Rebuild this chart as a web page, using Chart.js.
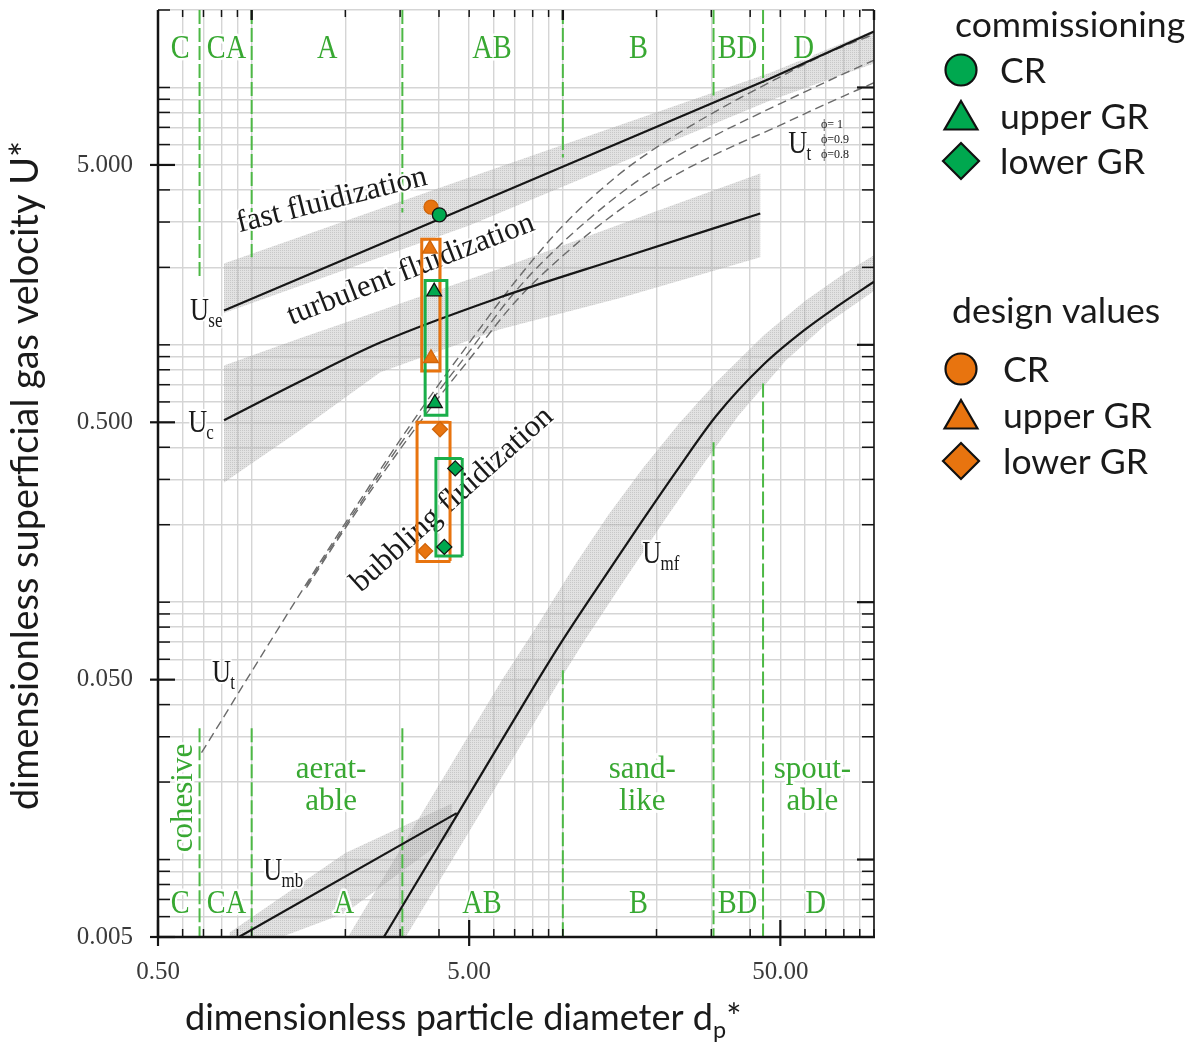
<!DOCTYPE html>
<html>
<head>
<meta charset="utf-8">
<title>Fluidization regime map</title>
<script src="https://cdn.jsdelivr.net/npm/chart.js@4.4.1/dist/chart.umd.min.js"></script>
<style>
    html, body { margin: 0; padding: 0; background: #ffffff; }
    #box { position: relative; width: 1194px; height: 1042px; }
</style>
</head>
<body>
<div id="box"><canvas id="graceChart"></canvas></div>
<script>
// ---- axis ticks (log grid at 1..9 x 10^n) ----
const xTicks = [0.5, 0.6, 0.7, 0.8, 0.9, 1, 2, 3, 4, 5, 6, 7, 8, 9, 10, 20, 30, 40, 50, 60, 70, 80, 90, 100];
const yTicks = [0.005, 0.006, 0.007, 0.008, 0.009, 0.01, 0.02, 0.03, 0.04, 0.05, 0.06, 0.07, 0.08, 0.09,
    0.1, 0.2, 0.3, 0.4, 0.5, 0.6, 0.7, 0.8, 0.9, 1, 2, 3, 4, 5, 6, 7, 8, 9, 10, 20];
const xTickLabels = ['0.50', '5.00', '50.00'];
const yTickLabels = ['0.005', '0.050', '0.500', '5.000'];
const xDecades = [1, 10, 100];
const yDecades = [0.01, 0.1, 1, 10];

// ---- regime boundaries ----
// U_se (fast fluidization)
const useX = [0.815, 5, 46.4, 100];
const useY = [1.36, 3.45, 10.84, 16.5];
const useBandHi = [2.07, 4.47, 11.4, 16.7];
const useBandLo = [1.33, 2.91, 8.9, 12.4];

// U_c (turbulent fluidization)
const ucX = [0.815, 1.43, 2.59, 6.29, 15.3, 43.1];
const ucY = [0.509, 0.72, 1.02, 1.53, 2.17, 3.24];
const ucBandX = [0.815, 1.43, 2.59, 6.29, 15.3, 43.1];
const ucBandHi = [0.832, 1.06, 1.36, 1.98, 2.94, 4.63];
const ucBandLo = [0.292, 0.466, 0.782, 1.15, 1.52, 2.19];

// U_mf (minimum fluidization)
const umfX = [2.66, 4.61, 8.33, 9.99, 13.29, 17.99, 23.67, 31.13, 44.25, 59.7, 76.8, 100];
const umfY = [0.005, 0.01515, 0.05, 0.0712, 0.12, 0.207, 0.335, 0.53, 0.84, 1.14, 1.42, 1.76];
const umfBandHiX = [1.8, 2.04, 3.53, 6.38, 8.33, 11, 14, 18, 23.67, 31, 44.25, 60, 80, 100];
const umfBandHi = [0.0039, 0.005, 0.01515, 0.05, 0.082, 0.141, 0.218, 0.329, 0.496, 0.713, 1.09, 1.48, 1.89, 2.23];
const umfBandLoX = [2.9, 5.43, 9.8, 11.76, 15.64, 21.17, 27.86, 36.64, 52.08, 70, 100];
const umfBandLo = [0.0043, 0.01515, 0.05, 0.0712, 0.12, 0.207, 0.335, 0.53, 0.87, 1.2, 1.62];

// U_mb (minimum bubbling)
const umbX = [0.91, 4.56];
const umbY = [0.005, 0.01515];
const umbBandX = [0.85, 2, 4.4];
const umbBandHi = [0.0052, 0.0106, 0.0165];
const umbBandLo = [0.0042, 0.0062, 0.0125];

// U_t (terminal velocity) for sphericity 1, 0.9, 0.8
const ut10X = [0.69, 0.8, 1, 1.5, 2, 3, 4, 5, 7, 10, 15, 20, 30, 50, 70, 100];
const ut10Y = [0.026, 0.0347, 0.0538, 0.118, 0.203, 0.427, 0.704, 1.016, 1.75, 2.9, 4.55, 5.85, 7.9, 11.0, 13.5, 16.1];
const utShapeX = [1.5, 2, 3, 4, 5, 7, 10, 15, 20, 30, 50, 70, 100];
const ut09Y = [0.116, 0.198, 0.41, 0.663, 0.941, 1.6, 2.5, 3.8, 4.85, 6.4, 8.66, 10.5, 12.77];
const ut08Y = [0.114, 0.194, 0.393, 0.627, 0.877, 1.46, 2.22, 3.3, 4.15, 5.4, 7.14, 8.62, 10.44];

// particle groups (C, CA, A, AB, B, BD, D) - boundaries and where the dashed lines stop
const groupNames = ['C', 'CA', 'A', 'AB', 'B', 'BD', 'D'];
const groupBounds = [0.68, 1.0, 3.05, 10, 30.5, 44];
const groupTopEnd = [1.83, 2.19, 3.27, 5.35, 9.31, 10.4];
const groupLowStart = [0.0324, 0.0324, 0.0324, 0.0544, 0.418, 0.708];

// ---- operating points ----
const commCRX = [4.01], commCRY = [3.20];
const commUpperX = [3.86, 3.88], commUpperY = [1.61, 0.593];
const commLowerX = [4.51, 4.16], commLowerY = [0.331, 0.164];
const designCRX = [3.77], designCRY = [3.43];
const designUpperX = [3.74, 3.77], designUpperY = [2.36, 0.887];
const designLowerX = [4.03, 3.61], designLowerY = [0.470, 0.158];

// ranges of the grid-reactor points (x from/to, y from/to)
const commUpperBoxX = [3.61, 4.24], commUpperBoxY = [0.533, 1.78];
const designUpperBoxX = [3.52, 4.03], designUpperBoxY = [0.791, 2.57];
const commLowerBoxX = [3.91, 4.75], commLowerBoxY = [0.151, 0.362];
const designLowerBoxX = [3.40, 4.34], designLowerBoxY = [0.144, 0.5];

// ---- styling ----
const GREEN = '#00a84f';
const ORANGE = '#e8740f';
const GROUP_GREEN = '#38a832';
const LINE_BLACK = '#161616';
const SERIF = '"Liberation Serif", "DejaVu Serif", serif';
const SANS = 'Lato, "Open Sans", sans-serif';

// stippled grey for the uncertainty bands
function stipple() {
    const c = document.createElement('canvas');
    c.width = 2; c.height = 2;
    const g = c.getContext('2d');
    g.fillStyle = 'rgba(180,180,180,0.38)';
    g.fillRect(0, 0, 2, 2);
    g.fillStyle = 'rgba(140,140,140,0.30)';
    g.fillRect(0, 0, 1, 1);
    return g.createPattern(c, 'repeat');
}
const BAND = stipple();

// annotation anchors, in data units
const groupTopRow = { y: 13.07, x: [0.589, 0.83, 1.75, 5.92, 17.5, 36.4, 59.5] };
const groupLowRow = { y: 0.0062, x: [0.589, 0.83, 1.98, 5.5, 17.5, 36.4, 65] };
const groupWords = [
    { lines: ['aerat-', 'able'], x: 1.80 },
    { lines: ['sand-', 'like'], x: 18 },
    { lines: ['spout-', 'able'], x: 63.4 }
];
const groupWordY = [0.0207, 0.01556];
const regimeLabels = [
    { text: 'fast fluidization', x: 1.81, y: 3.64, angle: -14.2 },
    { text: 'turbulent fluidization', x: 3.25, y: 1.96, angle: -21.3 },
    { text: 'bubbling fluidization', x: 4.41, y: 0.25, angle: -42 }
];
const velocityLabels = [
    { sub: 'se', x: 0.634, y: 1.245 },
    { sub: 'c', x: 0.625, y: 0.457 },
    { sub: 't', x: 0.746, y: 0.0489 },
    { sub: 'mf', x: 18.0, y: 0.142 },
    { sub: 'mb', x: 1.09, y: 0.00832 },
    { sub: 't', x: 53.0, y: 5.54 }
];
const shapeLabels = [
    { text: '\u03D5= 1', y: 6.93 },
    { text: '\u03D5=0.9', y: 6.06 },
    { text: '\u03D5=0.8', y: 5.30 }
];

const P = (xs, ys) => xs.map((x, i) => ({ x: x, y: ys[i] }));

function curve(xs, ys, extra) {
    return Object.assign({
        data: P(xs, ys), showLine: true, pointRadius: 0, borderColor: LINE_BLACK,
        borderWidth: 2.2, fill: false, tension: 0
    }, extra || {});
}

function band(xHi, hi, xLo, lo) {
    return {
        data: P(xHi, hi).concat(P(xLo, lo).reverse()), showLine: true, pointRadius: 0,
        borderColor: 'rgba(0,0,0,0)', borderWidth: 0, fill: 'shape', backgroundColor: BAND, tension: 0
    };
}

function box(xr, yr, color, dash) {
    return {
        data: [{ x: xr[0], y: yr[0] }, { x: xr[1], y: yr[0] }, { x: xr[1], y: yr[1] },
            { x: xr[0], y: yr[1] }, { x: xr[0], y: yr[0] }],
        showLine: true, pointRadius: 0, borderColor: color, borderWidth: 3,
        borderDash: dash || [], borderCapStyle: 'square', borderJoinStyle: 'miter', fill: false, tension: 0
    };
}

function markers(xs, ys, style, fill, border, r) {
    return {
        data: P(xs, ys), showLine: false, pointStyle: style, pointRadius: r, pointHoverRadius: r,
        pointBackgroundColor: fill, pointBorderColor: border, pointBorderWidth: 1.3
    };
}

// group boundary segments (dashed green)
const groupSegments = [];
groupBounds.forEach((gx, i) => {
    const seg = { showLine: true, pointRadius: 0, borderColor: '#4db845', borderWidth: 2, borderDash: [14, 4], fill: false };
    groupSegments.push(Object.assign({ data: [{ x: gx, y: 20 }, { x: gx, y: groupTopEnd[i] }] }, seg));
    groupSegments.push(Object.assign({ data: [{ x: gx, y: groupLowStart[i] }, { x: gx, y: 0.005 }] }, seg));
});

const smooth = { tension: 0.3, cubicInterpolationMode: 'monotone' };
const dashed = Object.assign({ borderColor: '#6a6a6a', borderWidth: 1.4, borderDash: [9, 5] }, smooth);

// first dataset is drawn last (on top)
const datasets = [
    markers(commCRX, commCRY, 'circle', GREEN, '#111', 7),
    markers(designCRX, designCRY, 'circle', ORANGE, '#d0650a', 7),
    markers(commUpperX, commUpperY, 'triangle', GREEN, '#111', 8.5),
    markers(designUpperX, designUpperY, 'triangle', ORANGE, '#d0650a', 8.5),
    markers(commLowerX, commLowerY, 'rectRot', GREEN, '#111', 7.5),
    markers(designLowerX, designLowerY, 'rectRot', ORANGE, '#d0650a', 7.5),
    box(commUpperBoxX, commUpperBoxY, '#1aae4a'),
    box(designUpperBoxX, designUpperBoxY, ORANGE),
    box(commLowerBoxX, commLowerBoxY, '#1aae4a', [4, 3]),
    box(designLowerBoxX, designLowerBoxY, ORANGE, [4, 3]),
    Object.assign(curve(useX, useY), { labelsAfter: true }),
    curve(ucX, ucY, smooth),
    curve(umfX, umfY, smooth),
    curve(umbX, umbY),
    curve(ut10X, ut10Y, dashed),
    curve(utShapeX, ut09Y, dashed),
    curve(utShapeX, ut08Y, dashed)
].concat(groupSegments, [
    band(useX, useBandHi, useX, useBandLo),
    band(ucBandX, ucBandHi, ucBandX, ucBandLo),
    band(umfBandHiX, umfBandHi, umfBandLoX, umfBandLo),
    band(umbBandX, umbBandHi, umbBandX, umbBandLo)
]);

// ---- drawing helpers ----
function haloText(ctx, text, x, y, color, halo) {
    if (halo) {
        ctx.lineJoin = 'round';
        ctx.strokeStyle = 'rgba(255,255,255,0.92)';
        ctx.lineWidth = halo;
        ctx.strokeText(text, x, y);
    }
    ctx.fillStyle = color;
    ctx.fillText(text, x, y);
}

function seg(ctx, x1, y1, x2, y2) {
    ctx.beginPath();
    ctx.moveTo(x1, y1);
    ctx.lineTo(x2, y2);
    ctx.stroke();
}

function drawAnnotations(chart) {
    const ctx = chart.ctx;
    const X = v => chart.scales.x.getPixelForValue(v);
    const Y = v => chart.scales.y.getPixelForValue(v);
    ctx.save();

    // particle group letters, condensed serif
    ctx.font = '33px ' + SERIF;
    ctx.textAlign = 'center';
    ctx.textBaseline = 'alphabetic';
    [groupTopRow, groupLowRow].forEach(row => {
        groupNames.forEach((g, i) => {
            ctx.save();
            ctx.translate(X(row.x[i]), Y(row.y));
            ctx.scale(0.86, 1);
            haloText(ctx, g, 0, 0, GROUP_GREEN, 5);
            ctx.restore();
        });
    });

    ctx.font = '31px ' + SERIF;
    groupWords.forEach(w => {
        w.lines.forEach((t, k) => haloText(ctx, t, X(w.x), Y(groupWordY[k]), GROUP_GREEN, 6));
    });
    ctx.save();
    ctx.translate(X(0.643), Y(0.01733));
    ctx.rotate(-Math.PI / 2);
    haloText(ctx, 'cohesive', 0, 0, GROUP_GREEN, 5);
    ctx.restore();

    // regime names
    ctx.font = '31px ' + SERIF;
    ctx.textBaseline = 'middle';
    regimeLabels.forEach(l => {
        ctx.save();
        ctx.translate(X(l.x), Y(l.y));
        ctx.rotate(l.angle * Math.PI / 180);
        haloText(ctx, l.text, 0, 0, '#1a1a1a', 4);
        ctx.restore();
    });

    // characteristic velocities
    ctx.textAlign = 'left';
    ctx.textBaseline = 'alphabetic';
    velocityLabels.forEach(l => {
        const x = X(l.x), y = Y(l.y);
        ctx.font = '31px ' + SERIF;
        ctx.save();
        ctx.translate(x, y);
        ctx.scale(0.85, 1);
        haloText(ctx, 'U', 0, 0, '#1a1a1a', 4);
        const w = ctx.measureText('U').width;
        ctx.font = '20px ' + SERIF;
        haloText(ctx, l.sub, w - 1, 7, '#1a1a1a', 4);
        ctx.restore();
    });

    ctx.font = '12px ' + SERIF;
    shapeLabels.forEach(l => haloText(ctx, l.text, X(67.5), Y(l.y), '#1a1a1a', 0));
    ctx.restore();
}

function drawFrame(chart) {
    const ctx = chart.ctx;
    const { left, right, top, bottom } = chart.chartArea;
    const xs = chart.scales.x, ys = chart.scales.y;
    const xMajor = xTickLabels.map(parseFloat);
    const yMajor = yTickLabels.map(parseFloat);
    ctx.save();
    ctx.strokeStyle = '#141414';

    ctx.lineWidth = 2.5;
    seg(ctx, left, top, left, bottom + 1);
    seg(ctx, left - 1, bottom, right + 1, bottom);
    ctx.lineWidth = 1.6;
    seg(ctx, right, top, right, bottom);

    yTicks.forEach(v => {
        const y = ys.getPixelForValue(v);
        const major = yMajor.includes(v);
        ctx.lineWidth = major ? 2.2 : 1.5;
        seg(ctx, major ? left - 8 : left, y, left + (major ? 17 : 12), y);
        ctx.lineWidth = yDecades.includes(v) ? 2.2 : 1.5;
        seg(ctx, right - (yDecades.includes(v) ? 17 : 12), y, right, y);
    });
    xTicks.forEach(v => {
        const x = xs.getPixelForValue(v);
        const major = xMajor.includes(v);
        ctx.lineWidth = major ? 2.2 : 1.5;
        seg(ctx, x, bottom + (major ? 9 : 0), x, bottom - (major ? 17 : 8));
        ctx.lineWidth = xDecades.includes(v) ? 2.4 : 1.5;
        seg(ctx, x, top, x, top + (xDecades.includes(v) ? 10 : 7));
    });

    ctx.fillStyle = '#3a3a3a';
    ctx.font = '25px ' + SERIF;
    ctx.textAlign = 'right';
    ctx.textBaseline = 'middle';
    yTickLabels.forEach(t => ctx.fillText(t, left - 25, ys.getPixelForValue(parseFloat(t))));
    ctx.textAlign = 'center';
    xTickLabels.forEach(t => ctx.fillText(t, xs.getPixelForValue(parseFloat(t)), bottom + 35));

    // axis titles
    ctx.fillStyle = '#1a1a1a';
    ctx.textBaseline = 'alphabetic';
    const yTitle = 'dimensionless superficial gas velocity U*';
    ctx.font = '100px ' + SANS;
    const ySize = 100 * 670 / ctx.measureText(yTitle).width;
    ctx.font = ySize.toFixed(1) + 'px ' + SANS;
    ctx.save();
    ctx.translate(38, (top + bottom) / 2 + 2);
    ctx.rotate(-Math.PI / 2);
    ctx.textAlign = 'center';
    ctx.fillText(yTitle, 0, 0);
    ctx.restore();

    const xMain = 'dimensionless particle diameter d';
    ctx.font = '100px ' + SANS;
    const xSize = 100 * 543 / ctx.measureText(xMain + '*').width;
    ctx.font = xSize.toFixed(1) + 'px ' + SANS;
    const wMain = ctx.measureText(xMain).width;
    ctx.font = (xSize * 0.65).toFixed(1) + 'px ' + SANS;
    const wSub = ctx.measureText('p').width;
    const x0 = 185;
    ctx.textAlign = 'left';
    ctx.font = xSize.toFixed(1) + 'px ' + SANS;
    ctx.fillText(xMain, x0, 1030);
    ctx.fillText('*', x0 + wMain + wSub, 1030);
    ctx.font = (xSize * 0.65).toFixed(1) + 'px ' + SANS;
    ctx.fillText('p', x0 + wMain, 1038);
    ctx.restore();
}

function drawLegend(chart) {
    const ctx = chart.ctx;
    const groups = [
        { title: 'commissioning', color: GREEN, titleX: 955, titleY: 36, itemY: [70, 116, 161], textX: 1000 },
        { title: 'design values', color: ORANGE, titleX: 952, titleY: 322, itemY: [369, 415, 461], textX: 1003 }
    ];
    const items = ['CR', 'upper GR', 'lower GR'];
    const styles = [['circle', 15.5], ['triangle', 19], ['rectRot', 18]];
    ctx.save();
    ctx.font = '100px ' + SANS;
    const size = 100 * 230 / ctx.measureText('commissioning').width;
    ctx.font = size.toFixed(1) + 'px ' + SANS;
    ctx.textBaseline = 'middle';
    ctx.textAlign = 'left';
    groups.forEach(g => {
        ctx.fillStyle = '#1a1a1a';
        ctx.fillText(g.title, g.titleX, g.titleY - 10);
        items.forEach((t, i) => {
            ctx.fillStyle = g.color;
            ctx.strokeStyle = '#111';
            ctx.lineWidth = 2.2;
            Chart.helpers.drawPoint(ctx, { pointStyle: styles[i][0], radius: styles[i][1], rotation: 0, borderWidth: 2.2 },
                961, g.itemY[i] + (i === 1 ? 4 : 0));
            ctx.fillStyle = '#1a1a1a';
            ctx.fillText(t, g.textX, g.itemY[i] + 2);
        });
    });
    ctx.restore();
}

const overlay = {
    id: 'overlay',
    afterDatasetDraw(chart, args) {
        if (chart.data.datasets[args.index].labelsAfter) drawAnnotations(chart);
    },
    afterDraw(chart) {
        drawFrame(chart);
        drawLegend(chart);
    }
};

new Chart(document.getElementById('graceChart'), {
    type: 'scatter',
    data: { datasets: datasets },
    options: {
        responsive: true,
        maintainAspectRatio: false,
        animation: false,
        devicePixelRatio: 1,
        layout: { padding: { left: 158, right: 320, top: 10, bottom: 105 } },
        plugins: { legend: { display: false }, tooltip: { enabled: false } },
        scales: {
            x: {
                type: 'logarithmic', min: 0.5, max: 100,
                afterBuildTicks: s => { s.ticks = xTicks.map(v => ({ value: v })); },
                ticks: { display: false },
                grid: { color: '#d5d5d5', lineWidth: 1.4, drawTicks: false },
                border: { display: false }
            },
            y: {
                type: 'logarithmic', min: 0.005, max: 20,
                afterBuildTicks: s => { s.ticks = yTicks.map(v => ({ value: v })); },
                ticks: { display: false },
                grid: { color: '#d5d5d5', lineWidth: 1.4, drawTicks: false },
                border: { display: false }
            }
        }
    },
    plugins: [overlay]
});
</script>
</body>
</html>
